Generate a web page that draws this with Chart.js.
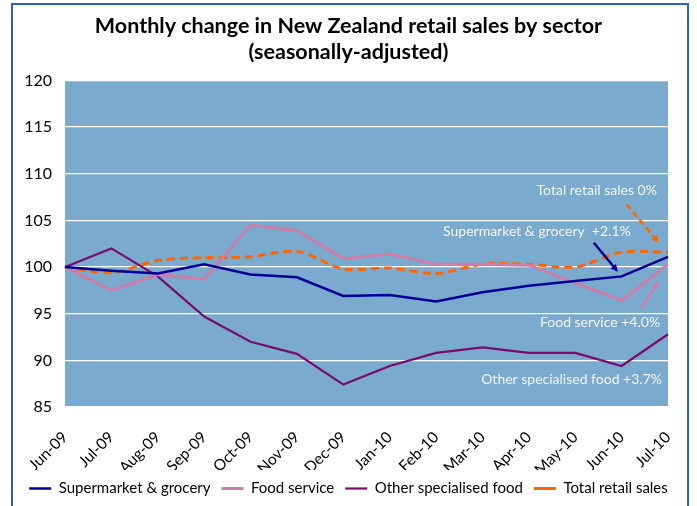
<!DOCTYPE html>
<html>
<head>
<meta charset="utf-8">
<script src="https://cdn.jsdelivr.net/npm/chart.js@4"></script>
<style>
  html, body { margin: 0; padding: 0; background: #fff; }
  #wrap { position: relative; width: 697px; height: 506px; overflow: hidden; }
  #frame { position: absolute; left: 11px; top: 3px; width: 678px; height: 520px; border: 2px solid #2A62BE; box-sizing: border-box; pointer-events: none; }
</style>
</head>
<body>
<div id="wrap">
  <canvas id="chart" width="697" height="506"></canvas>
  <div id="frame"></div>
</div>
<script>
const months = ["Jun-09", "Jul-09", "Aug-09", "Sep-09", "Oct-09", "Nov-09", "Dec-09",
  "Jan-10", "Feb-10", "Mar-10", "Apr-10", "May-10", "Jun-10", "Jul-10"];

const supermarket = [100, 99.6, 99.3, 100.3, 99.2, 98.9, 96.9, 97.0, 96.3, 97.3, 98.0, 98.5, 99.0, 101.1];
const foodService = [100, 97.5, 99.2, 98.7, 104.5, 103.9, 100.9, 101.4, 100.3, 100.3, 100.2, 98.3, 96.4, 100.3];
const otherFood = [100, 102.0, 99.0, 94.7, 92.0, 90.7, 87.4, 89.4, 90.8, 91.4, 90.8, 90.8, 89.4, 92.8];
const totalRetail = [100, 99.4, 100.7, 101.0, 101.1, 101.7, 99.8, 99.9, 99.3, 100.3, 100.3, 100.0, 101.6, 101.6];

const yTicks = [85, 90, 95, 100, 105, 110, 115, 120];

// annotation labels, placed in data units (x = month index, y = index value)
const notes = [
  { text: "Total retail sales 0%", x: 12.76, y: 108.2, align: "right",
    arrow: [12.11, 106.7, 12.8, 102.6], color: "#FF6600", dash: [6, 4] },
  { text: "Supermarket & grocery  +2.1%", x: 8.15, y: 103.8, align: "left",
    arrow: [11.4, 102.6, 11.92, 99.5], color: "#000099", dash: [] },
  { text: "Food service +4.0%", x: 12.83, y: 94.05, align: "right",
    arrow: [12.42, 95.6, 12.8, 98.5], color: "#CC7EA8", dash: [] },
  { text: "Other specialised food +3.7%", x: 12.87, y: 88.0, align: "right",
    arrow: null }
];

const FONT = "Lato, 'Open Sans', sans-serif";

const plotBackground = {
  id: "plotBackground",
  beforeDraw(chart) {
    const { ctx, chartArea: a } = chart;
    ctx.save();
    ctx.fillStyle = "#7AAACD";
    ctx.fillRect(a.left, a.top, a.right - a.left, a.bottom - a.top);
    ctx.restore();
  }
};

const noteLabels = {
  id: "noteLabels",
  afterDatasetsDraw(chart) {
    const { ctx, scales: { x, y } } = chart;
    ctx.save();
    ctx.font = "14px " + FONT;
    ctx.textBaseline = "middle";
    notes.forEach(n => {
      ctx.fillStyle = "#F4F4F4";
      ctx.textAlign = n.align;
      ctx.fillText(n.text, x.getPixelForValue(n.x), y.getPixelForValue(n.y));
      if (!n.arrow) return;
      const x1 = x.getPixelForValue(n.arrow[0]), y1 = y.getPixelForValue(n.arrow[1]);
      const x2 = x.getPixelForValue(n.arrow[2]), y2 = y.getPixelForValue(n.arrow[3]);
      const ang = Math.atan2(y2 - y1, x2 - x1);
      const head = 8;
      ctx.strokeStyle = n.color;
      ctx.fillStyle = n.color;
      ctx.lineWidth = 2.5;
      ctx.setLineDash(n.dash);
      ctx.beginPath();
      ctx.moveTo(x1, y1);
      ctx.lineTo(x2 - Math.cos(ang) * head * 0.8, y2 - Math.sin(ang) * head * 0.8);
      ctx.stroke();
      ctx.setLineDash([]);
      ctx.beginPath();
      ctx.moveTo(x2, y2);
      ctx.lineTo(x2 - head * Math.cos(ang - 0.45), y2 - head * Math.sin(ang - 0.45));
      ctx.lineTo(x2 - head * Math.cos(ang + 0.45), y2 - head * Math.sin(ang + 0.45));
      ctx.closePath();
      ctx.fill();
    });
    ctx.restore();
  }
};

function line(label, data, color, width, extra) {
  return Object.assign({
    label, data,
    borderColor: color,
    backgroundColor: color,
    borderWidth: width,
    pointRadius: 0,
    tension: 0,
    fill: false
  }, extra || {});
}

new Chart(document.getElementById("chart").getContext("2d"), {
  type: "line",
  data: {
    labels: months,
    datasets: [
      line("Supermarket & grocery", supermarket, "#000099", 2.5),
      line("Food service", foodService, "#CC7EA8", 3),
      line("Other specialised food", otherFood, "#7A0A6E", 2.2),
      line("Total retail sales", totalRetail, "#FF6600", 3, { borderDash: [8, 5], tension: 0.3 })
    ]
  },
  options: {
    responsive: false,
    animation: false,
    layout: { padding: { top: 4, right: 0, bottom: 0, left: 0 } },
    plugins: {
      title: {
        display: true,
        text: ["Monthly change in New Zealand retail sales by sector", "(seasonally-adjusted)"],
        color: "#000",
        font: { family: FONT, size: 21.5, weight: "bold", lineHeight: 1.22 },
        padding: { top: 9, bottom: 15 }
      },
      legend: {
        position: "bottom",
        labels: {
          color: "#000",
          font: { family: FONT, size: 15 },
          usePointStyle: true,
          pointStyle: "line",
          pointStyleWidth: 22,
          boxHeight: 2,
          padding: 11
        }
      },
      tooltip: { enabled: false }
    },
    scales: {
      x: {
        offset: false,
        grid: { display: false },
        border: { display: false },
        ticks: {
          color: "#000",
          font: { family: FONT, size: 15.5 },
          minRotation: 45,
          maxRotation: 45,
          autoSkip: false,
          padding: 13
        },
        // tall enough that the rotated labels are not clipped
        afterFit: scale => { scale.height = 63; }
      },
      y: {
        min: 85,
        max: 120,
        afterBuildTicks: scale => { scale.ticks = yTicks.map(v => ({ value: v })); },
        grid: { color: "#FFFFFF", lineWidth: 1.3, drawTicks: false },
        border: { display: false },
        ticks: {
          color: "#000",
          font: { family: FONT, size: 16 },
          padding: 13
        },
        afterFit: scale => { scale.width = 65; }
      },
      // empty right-hand axis, only reserves the right margin
      yRight: {
        position: "right",
        grid: { display: false },
        border: { display: false },
        ticks: { display: false },
        afterFit: scale => { scale.width = 29; }
      }
    }
  },
  plugins: [plotBackground, noteLabels]
});
</script>
</body>
</html>
